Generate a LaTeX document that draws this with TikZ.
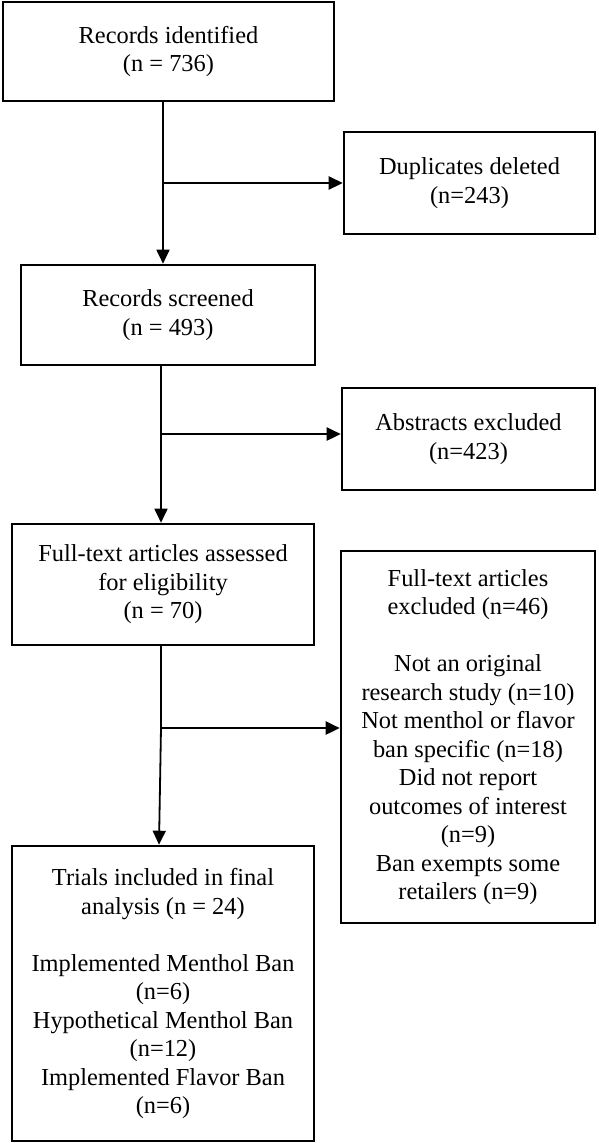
\documentclass[tikz,border=0pt]{standalone}
\usepackage{fontspec}
\setmainfont{Liberation Serif}
\usetikzlibrary{arrows.meta}
\begin{document}
\begin{tikzpicture}[x=1pt,y=-1pt,
  box/.style={draw=black, line width=2.6pt, rectangle, align=center, inner sep=0pt,
    font=\fontsize{24.4}{28.5}\selectfont},
  conn/.style={line width=1.8pt, -{Triangle[length=14pt,width=13pt]}},
  branch/.style={line width=2.6pt, -{Triangle[length=14pt,width=13pt]}},
  plainline/.style={line width=1.8pt}]
\useasboundingbox (0,0) rectangle (598,1143);
\node[box, minimum width=331pt, minimum height=99pt] (b1) at (168.5,51.5) {Records identified\\(n = 736)};
\node[box, minimum width=251pt, minimum height=102pt] (b2) at (469.5,183) {Duplicates deleted\\(n=243)};
\node[box, minimum width=294pt, minimum height=100pt] (b3) at (168,315) {Records screened\\(n = 493)};
\node[box, minimum width=253pt, minimum height=102pt] (b4) at (468.5,439) {Abstracts excluded\\(n=423)};
\node[box, minimum width=302pt, minimum height=121pt] (b5) at (163,584.5) {Full-text articles assessed\\for eligibility\\(n = 70)};
\node[box, minimum width=254pt, minimum height=372pt] (b6) at (468,737) {Full-text articles\\excluded (n=46)\\[28.5pt]Not an original\\research study (n=10)\\Not menthol or flavor\\ban specific (n=18)\\Did not report\\outcomes of interest\\(n=9)\\Ban exempts some\\retailers (n=9)};
\node[box, minimum width=302pt, minimum height=295pt] (b7) at (163,993.5) {Trials included in final\\analysis (n = 24)\\[28.5pt]Implemented Menthol Ban\\(n=6)\\Hypothetical Menthol Ban\\(n=12)\\Implemented Flavor Ban\\(n=6)};
% connectors
\coordinate (j1) at (163,183);
\coordinate (j2) at (161,434);
\coordinate (j3) at (161,728);
\coordinate (j3b) at (159,728);
\draw[conn] (j1 |- b1.south) -- (j1 |- b3.north);
\draw[branch] (j1) -- (j1 -| b2.west);
\draw[conn] (j2 |- b3.south) -- (j2 |- b5.north);
\draw[branch] (j2) -- (j2 -| b4.west);
\draw[plainline] (j3 |- b5.south) -- (j3);
\draw[conn] (j3) -- (j3b |- b7.north);
\draw[branch] (j3) -- (j3 -| b6.west);
\end{tikzpicture}
\end{document}
